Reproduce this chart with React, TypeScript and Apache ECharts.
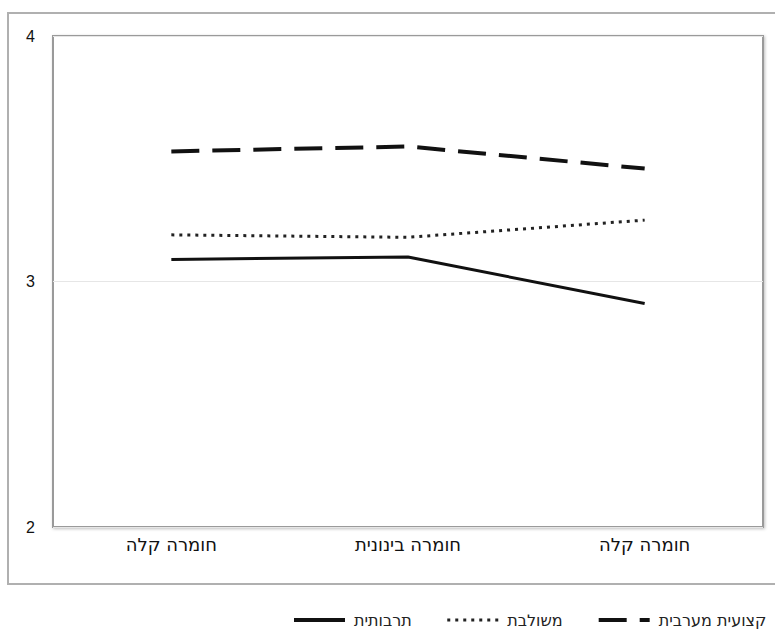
import React, { useEffect, useRef } from "react";
import * as echarts from "echarts";

const categories = ["חומרה קלה", "חומרה בינונית", "חומרה קלה"];
const seriesNames = ["תרבותית", "משולבת", "קצועית מערבית"];
const solidValues = [3.09, 3.1, 2.91];
const dottedValues = [3.19, 3.18, 3.25];
const dashedValues = [3.53, 3.55, 3.46];
const yTicks = [2, 3, 4];

export default function App() {
  const ref = useRef<HTMLDivElement>(null);
  useEffect(() => {
    if (!ref.current) return;
    const chart = echarts.init(ref.current, undefined, { renderer: "svg" });
    const font = "'DejaVu Sans', 'Liberation Sans', sans-serif";
    const numFont = "'Liberation Sans', Arial, sans-serif";
    chart.setOption({
      animation: false,
      backgroundColor: "#ffffff",
      textStyle: { fontFamily: font },
      graphic: [
        {
          type: "rect",
          shape: { x: 8, y: 13, width: 790, height: 571 },
          style: { fill: "none", stroke: "#b0b0b0", lineWidth: 2 },
          z: -1,
        },
      ],
      grid: {
        left: 53,
        top: 36,
        width: 710,
        height: 491,
        show: true,
        borderColor: "#9a9a9a",
        borderWidth: 2,
        backgroundColor: "#ffffff",
        shadowBlur: 3,
        shadowColor: "rgba(0,0,0,0.25)",
        shadowOffsetX: 1,
        shadowOffsetY: 1,
      },
      legend: {
        left: 292,
        top: 612,
        width: 483,
        itemWidth: 51,
        itemHeight: 14,
        itemGap: 34,
        itemStyle: { opacity: 0 },
        padding: 0,
        textStyle: {
          fontFamily: font,
          fontSize: 16,
          color: "#222",
          padding: [0, 0, 0, 4],
        },
        data: [
          { name: seriesNames[0], lineStyle: { width: 4, type: "solid" } },
          { name: seriesNames[1], lineStyle: { width: 3, type: [3, 5] } },
          { name: seriesNames[2], lineStyle: { width: 4, type: [28, 13] } },
        ],
      },
      xAxis: {
        type: "category",
        data: categories,
        boundaryGap: true,
        axisLine: { show: false },
        axisTick: { show: false },
        axisLabel: { fontSize: 18, color: "#111", margin: 8, fontFamily: font },
        splitLine: { show: false },
      },
      yAxis: {
        type: "value",
        min: yTicks[0],
        max: yTicks[yTicks.length - 1],
        interval: 1,
        axisLine: { show: false },
        axisTick: { show: false },
        axisLabel: { fontSize: 16, color: "#111", margin: 18, fontFamily: numFont },
        splitLine: { show: true, lineStyle: { color: "#e6e6e6", width: 1 } },
      },
      series: [
        {
          name: seriesNames[0],
          type: "line",
          data: solidValues,
          symbol: "none",
          lineStyle: { color: "#111", width: 3, type: "solid" },
          itemStyle: { color: "#111" },
        },
        {
          name: seriesNames[1],
          type: "line",
          data: dottedValues,
          symbol: "none",
          lineStyle: { color: "#222", width: 3, type: [3, 5] },
          itemStyle: { color: "#222" },
        },
        {
          name: seriesNames[2],
          type: "line",
          data: dashedValues,
          symbol: "none",
          lineStyle: { color: "#111", width: 4, type: [28, 13] },
          itemStyle: { color: "#111" },
        },
      ],
    });
    return () => chart.dispose();
  }, []);
  return (
    <div
      ref={ref}
      style={{ position: "fixed", top: 0, left: 0, width: 775, height: 629 }}
    />
  );
}
